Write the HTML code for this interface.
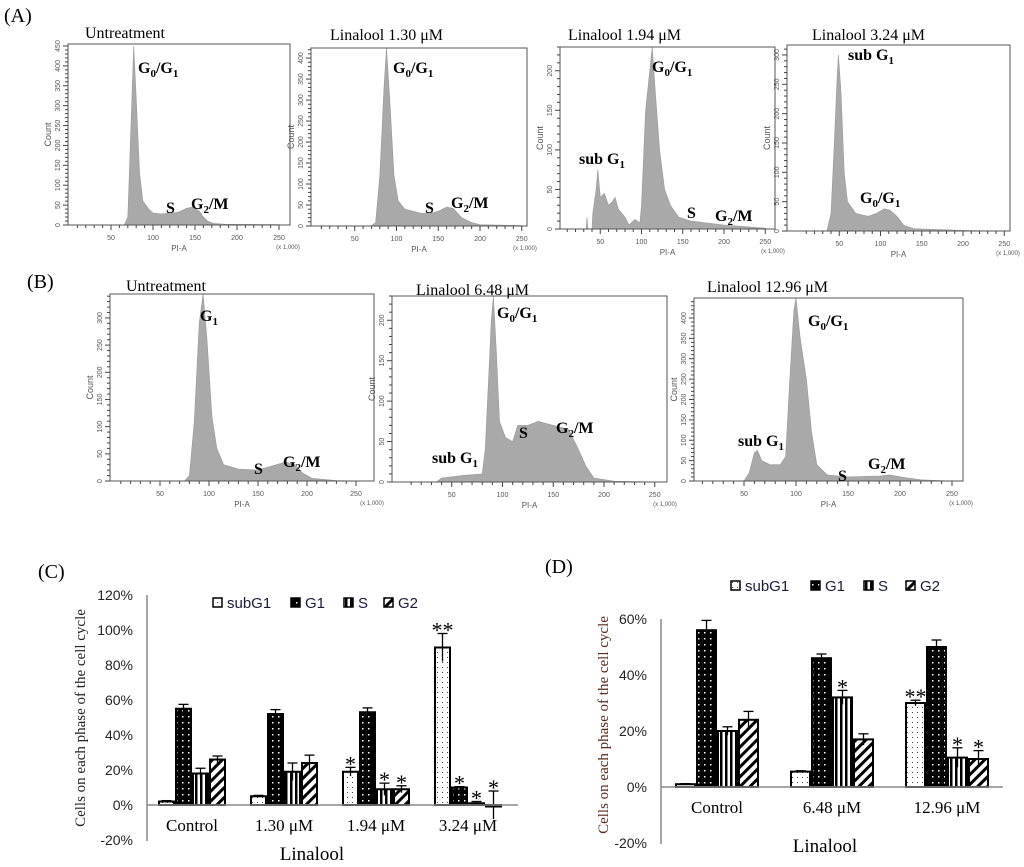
<!DOCTYPE html>
<html><head><meta charset="utf-8"><style>
body{margin:0;background:#fff;width:1024px;height:867px;overflow:hidden}
svg{display:block}
.ser{font-family:"Liberation Serif",serif}
.san{font-family:"Liberation Sans",sans-serif}
</style></head><body>
<svg id="fig" width="1024" height="867" viewBox="0 0 1024 867" xmlns="http://www.w3.org/2000/svg">
<defs>
<pattern id="pSub" width="5" height="5" patternUnits="userSpaceOnUse"><rect width="5" height="5" fill="#fff"/><rect x="2" y="2" width="1" height="1" fill="#444"/></pattern>
<pattern id="pG1" width="6" height="6" patternUnits="userSpaceOnUse"><rect width="6" height="6" fill="#000"/><rect x="2" y="2" width="1.5" height="1.5" fill="#fff"/></pattern>
<pattern id="pS" width="5" height="5" patternUnits="userSpaceOnUse"><rect width="5" height="5" fill="#fff"/><rect x="0" y="0" width="2.5" height="5" fill="#000"/></pattern>
<pattern id="pG2" width="7" height="7" patternUnits="userSpaceOnUse" patternTransform="rotate(45)"><rect width="7" height="7" fill="#fff"/><rect x="0" y="0" width="3" height="7" fill="#000"/></pattern>
</defs>
<g id="hists"></g>
<g id="bars"></g>
</svg>
<script>
// ---------- Histogram data: [PI-A (x1000), count] ----------
const histA1 = [[66,0],[70,20],[73,200],[77,450],[80,320],[84,130],[88,60],[95,40],[100,30],[110,28],[120,30],[130,32],[140,42],[148,45],[155,35],[160,20],[165,10],[172,4],[185,2],[250,1]];
const histA2 = [[70,0],[75,8],[80,120],[85,330],[88,424],[92,300],[97,120],[102,60],[110,40],[130,30],[140,30],[150,35],[160,45],[168,42],[178,20],[190,8],[200,3],[250,1]];
const histA3 = [[33,0],[34,15],[35,0],[40,0],[41,20],[45,50],[47,75],[50,40],[55,45],[60,30],[65,35],[68,40],[72,25],[80,15],[85,5],[92,12],[98,8],[100,30],[105,150],[110,200],[113,230],[117,170],[122,100],[128,50],[135,30],[145,15],[160,10],[200,5],[225,3],[250,1]];
const histA4 = [[35,0],[40,30],[44,150],[47,250],[49,300],[52,240],[56,100],[60,50],[70,30],[85,25],[95,30],[105,38],[112,35],[120,25],[128,10],[140,4],[200,1],[250,0]];
const histB1 = [[75,0],[80,10],[85,110],[90,290],[94,344],[98,260],[103,120],[108,60],[115,30],[130,22],[150,20],[165,28],[178,35],[188,30],[195,15],[205,5],[230,1],[250,0]];
const histB2 = [[35,0],[40,5],[60,8],[80,10],[83,40],[86,120],[89,200],[91,230],[94,160],[97,75],[103,55],[110,50],[115,70],[125,70],[135,75],[150,70],[165,65],[175,40],[182,20],[190,5],[210,1],[250,0]];
const histB3 = [[50,0],[55,20],[60,70],[63,75],[67,50],[75,40],[85,40],[90,60],[94,250],[98,420],[100,449],[104,350],[110,250],[115,120],[120,40],[130,15],[150,10],[180,12],[190,15],[205,8],[220,3],[250,0]];

// ---------- Bar chart C data ----------
const catsC = ["Control","1.30  μM","1.94  μM","3.24  μM"];
const subG1C = [2,5,19,90];
const g1C = [55,52,53,10];
const sC = [18,19,9,1];
const g2C = [26,24,9,0];
const subG1ErrC = [0.5,0.5,2.5,8];
const g1ErrC = [2.5,2.5,2.5,0.5];
const sErrC = [3,5,3.5,1];
const g2ErrC = [2,4.5,2,8];
const starsC = [["","","",""],["","","",""],["*","","*","*"],["**","*","*","*"]];
const yTicksC = [-20,0,20,40,60,80,100,120];

// ---------- Bar chart D data ----------
const catsD = ["Control","6.48  μM","12.96  μM"];
const subG1D = [1,5.5,30];
const g1D = [56,46,50];
const sD = [20,32,10.5];
const g2D = [24,17,10];
const subG1ErrD = [0.2,0.3,1];
const g1ErrD = [3.5,1.5,2.5];
const sErrD = [1.5,2.5,3.5];
const g2ErrD = [3,2,3];
const starsD = [["","","",""],["","","*",""],["**","","*","*"]];
const yTicksD = [-20,0,20,40,60];

const NS="http://www.w3.org/2000/svg";
function mk(tag,attrs,parent,text){const e=document.createElementNS(NS,tag);for(const k in attrs)e.setAttribute(k,attrs[k]);if(text!==undefined)e.textContent=text;parent.appendChild(e);return e;}

const hg=document.getElementById('hists');
function histPanel(name,data,box,x0,xs,ymax,ytick,title,tx,ty,labels){
  const g=mk('g',{},hg);
  
  
  const [L,T,R,B]=box;
  const X=v=>x0+v*xs, Y=c=>B-(c/ymax)*(B-T);
  let d='M'+X(data[0][0])+','+B;
  data.forEach(p=>{d+=' L'+X(p[0]).toFixed(1)+','+Y(p[1]).toFixed(1);});
  d+=' L'+X(data[data.length-1][0])+','+B+' Z';
  const area=mk('path',{d:d,fill:'#a9a9a9',stroke:'#9a9a9a','stroke-width':0.6},g);
  
  
  const fr=mk('rect',{x:L,y:T,width:R-L,height:B-T,fill:'none',stroke:'#555','stroke-width':1},g);
  
  
  for(let v=10;v<=250;v+=10){const xx=X(v);mk('line',{x1:xx,y1:B,x2:xx,y2:B+(v%50==0?5:3),stroke:'#444','stroke-width':1},g);
    if(v%50==0){const t=mk('text',{x:xx,y:B+15,'font-size':7,'text-anchor':'middle',fill:'#555',class:'san'},g,String(v));}}
  const step=ytick/5;
  for(let c=0;c<=ymax;c+=step){const yy=Y(c);mk('line',{x1:L-(c%ytick==0?5:3),y1:yy,x2:L,y2:yy,stroke:'#444','stroke-width':1},g);
    if(c%ytick==0){const t=mk('text',{x:L-8,y:yy,'font-size':7,'text-anchor':'middle',fill:'#555',class:'san',transform:'rotate(-90 '+(L-8)+' '+yy+')'},g,String(c));}}
  const cx=L-17, cy=(T+B)/2;
  const ct=mk('text',{x:cx,y:cy,'font-size':9,'text-anchor':'middle',fill:'#555',class:'san',transform:'rotate(-90 '+cx+' '+cy+')'},g,'Count');
  
  
  const pa=mk('text',{x:(L+R)/2,y:B+26,'font-size':8,'text-anchor':'middle',fill:'#555',class:'san'},g,'PI-A');
  
  
  const ks=mk('text',{x:R-2,y:B+24,'font-size':6,'text-anchor':'middle',fill:'#555',class:'san'},g,'(x 1,000)');
  
  
  const tt=mk('text',{x:tx,y:ty,'font-size':16,fill:'#000',class:'ser'},g,title);
  
  
  labels.forEach(l=>{
    const t=mk('text',{x:l[1],y:l[2],'font-size':16,'font-weight':'bold',fill:'#000',class:'ser'},g);
    
    
    l[0].split(/(_\d)/).forEach(part=>{
      if(part.startsWith('_')){mk('tspan',{'font-size':11,dy:4},t,part[1]);mk('tspan',{dy:-4},t,'\u200b');}
      else if(part) mk('tspan',{},t,part);
    });
  });
}
histPanel('histogram-a-untreated',histA1,[68,44,290,225],69,0.84,455,50,'Untreatment',85,38,[['G_0/G_1',138,73],['S',166,213],['G_2/M',191,209]]);
histPanel('histogram-a-1-30',histA2,[311,48,527,226],313,0.835,424,50,'Linalool 1.30 μM',330,40,[['G_0/G_1',393,73],['S',425,213],['G_2/M',451,208]]);
histPanel('histogram-a-1-94',histA3,[560,47,775,229],559,0.825,230,50,'Linalool 1.94 μM',568,40,[['G_0/G_1',652,72],['sub G_1',579,164],['S',687,218],['G_2/M',715,221]]);
histPanel('histogram-a-3-24',histA4,[787,45,1010,231],798,0.825,317,50,'Linalool 3.24 μM',812,40,[['sub G_1',848,60],['G_0/G_1',860,203]]);
histPanel('histogram-b-untreated',histB1,[110,294,374,481],111,0.98,344,50,'Untreatment',126,291,[['G_1',200,321],['S',254,474],['G_2/M',283,467]]);
histPanel('histogram-b-6-48',histB2,[392,296,667,482],401,1.015,230,50,'Linalool 6.48 μM',416,295,[['G_0/G_1',497,318],['sub G_1',432,463],['S',519,438],['G_2/M',556,433]]);
histPanel('histogram-b-12-96',histB3,[694,298,963,481],692,1.04,449,50,'Linalool 12.96 μM',707,292,[['G_0/G_1',808,326],['sub G_1',738,446],['S',838,481],['G_2/M',868,469]]);

[['(A)',4,22],['(B)',27,288],['(C)',38,578],['(D)',545,573]].forEach(p=>{
  const t=mk('text',{x:p[1],y:p[2],'font-size':20,class:'ser'},hg,p[0]);
  
  
});

// ---------- Bar charts ----------
const bg=document.getElementById('bars');
const fills=['url(#pSub)','url(#pG1)','url(#pS)','url(#pG2)'];
const sNames=['subG1','G1','S','G2'];
function barChart(name,cats,series,errs,stars,ticks,cfg){
  const g=mk('g',{},bg);
  
  
  const Y=v=>cfg.y0-v*cfg.ppu;
  const ax=mk('line',{x1:cfg.ax,y1:Y(ticks[ticks.length-1]),x2:cfg.ax,y2:Y(ticks[0])+1,stroke:'#888','stroke-width':1.5},g);
  
  
  ticks.forEach(t=>{const tl=mk('text',{x:cfg.ax-14,y:Y(t)+5,'font-size':14,'text-anchor':'end',fill:'#222',class:'san'},g,t+'%');});
  cats.forEach((c,i)=>{
    const cx=cfg.c0+i*cfg.gap;
    series.forEach((s,j)=>{
      const x=cx-2*cfg.bw+j*cfg.bw, v=s[i];
      const y1=Math.min(Y(v),Y(0)), h=Math.max(Math.abs(Y(v)-Y(0)),1.5);
      const r=mk('rect',{x:x+1,y:y1,width:cfg.bw-2,height:h,fill:fills[j],stroke:'#000','stroke-width':2},g);
      
      
      const e=errs[j][i], mx=x+cfg.bw/2;
      mk('line',{x1:mx,y1:Y(v+e),x2:mx,y2:Y(v-e),stroke:'#000','stroke-width':1.3},g);
      mk('line',{x1:mx-5,y1:Y(v+e),x2:mx+5,y2:Y(v+e),stroke:'#000','stroke-width':1.3},g);
      const st=stars[i][j];
      if(st){const t=mk('text',{x:mx,y:Y(v+e)+4,'font-size':22,'text-anchor':'middle',fill:'#000',class:'ser'},g,st);
        
        }
    });
    const cl=mk('text',{x:cx,y:cfg.catY,'font-size':17,'text-anchor':'middle',fill:'#000',class:'ser','xml:space':'preserve'},g,c);
    
    
  });
  const xa=mk('line',{x1:cfg.ax,y1:Y(0),x2:cfg.xEnd,y2:Y(0),stroke:'#888','stroke-width':1.5},g);
  
  
  const xt=mk('text',{x:cfg.xtX,y:cfg.xtY,'font-size':19,'text-anchor':'middle',fill:'#000',class:'ser'},g,'Linalool');
  
  
  const yt=mk('text',{x:cfg.ytX,y:cfg.ytY,'font-size':15,'text-anchor':'middle',fill:cfg.ytCol,class:'ser',transform:'rotate(-90 '+cfg.ytX+' '+cfg.ytY+')','xml:space':'preserve'},g,'Cells on each  phase of the cell  cycle');
  
  
  cfg.leg.forEach((lx,j)=>{
    const le=mk('g',{},g);
    
    
    mk('rect',{x:lx,y:cfg.legY-9,width:9,height:9,fill:fills[j],stroke:'#000','stroke-width':1.5},le);
    mk('text',{x:lx+14,y:cfg.legY+1,'font-size':15,fill:'#1a1a3a',class:'san'},le,sNames[j]);
  });
}
barChart('bar-chart-c',catsC,[subG1C,g1C,sC,g2C],[subG1ErrC,g1ErrC,sErrC,g2ErrC],starsC,yTicksC,
 {y0:805,ppu:1.75,ax:147,xEnd:518,c0:192,gap:92,bw:17,catY:831,xtX:312,xtY:860,ytX:85,ytY:718,ytCol:'#222',leg:[213,291,344,384],legY:607});
barChart('bar-chart-d',catsD,[subG1D,g1D,sD,g2D],[subG1ErrD,g1ErrD,sErrD,g2ErrD],starsD,yTicksD,
 {y0:787,ppu:2.8,ax:661,xEnd:1003,c0:717,gap:115,bw:21,catY:813,xtX:825,xtY:852,ytX:608,ytY:725,ytCol:'#5a2a1a',leg:[731,811,864,906],legY:590});
</script>
</body></html>
